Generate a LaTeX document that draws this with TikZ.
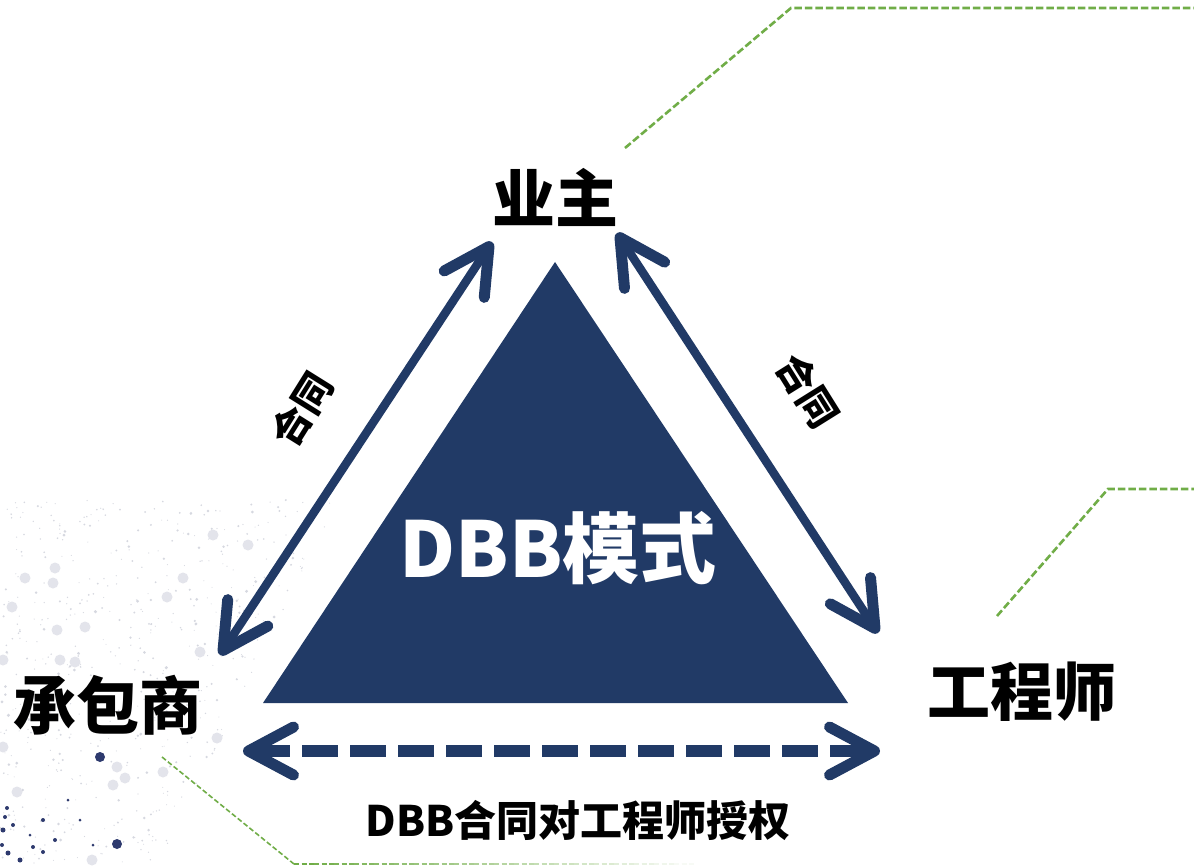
\documentclass[tikz,border=0pt]{standalone}
\usepackage{fontspec}
\newfontfamily\cjk{Noto Sans CJK SC}
\usetikzlibrary{arrows.meta,calc}
\definecolor{navy}{HTML}{213A66}
\definecolor{ggreen}{HTML}{70AD47}
\definecolor{dotgray}{HTML}{E3E4EB}
\definecolor{dotsmall}{HTML}{D6D8E0}
\definecolor{dotdark}{HTML}{2E3A6E}
\begin{document}
\begin{tikzpicture}[x=1pt,y=-1pt,
  barb/.tip={Straight Barb[length=45pt,width=48pt,line width=11pt,round]},
  dblarrow/.style={draw=navy,line width=8.5pt,{barb}-{barb}},
  dasharrow/.style={draw=navy,line width=12pt,dash pattern=on 36pt off 12pt,{barb}-{barb}},
  greendash/.style={draw=ggreen,line width=2.6pt,dash pattern=on 7.5pt off 3pt},
  greenthin/.style={draw=ggreen,line width=1.6pt,dash pattern=on 5pt off 2.5pt},
  party/.style={font=\cjk\bfseries\fontsize{63}{63}\selectfont,text=black,inner sep=0pt},
  contract/.style={font=\cjk\bfseries\fontsize{39}{39}\selectfont,text=black,inner sep=0pt},
  title/.style={font=\cjk\bfseries\fontsize{77}{77}\selectfont,text=white,inner sep=0pt},
  caption/.style={font=\cjk\bfseries\fontsize{42}{42}\selectfont,text=black,inner sep=0pt},
  bigdot/.style={fill=dotgray},
  darkdot/.style={fill=dotdark}
]
\useasboundingbox (0,0) rectangle (1194,866);
\fill[white] (0,0) rectangle (1194,866);

% decorative dots
\pgfmathsetseed{4242}
\foreach \i in {1,...,750}{
  \pgfmathsetmacro\px{rnd*340}
  \pgfmathsetmacro\py{500+rnd*366}
  \pgfmathsetmacro\lim{340-0.5*(\py-500)}
  \pgfmathsetmacro\r{0.5+1.3*rnd*rnd}
  \ifdim\px pt<\lim pt \fill[dotsmall] (\px,\py) circle[radius=\r];\fi
}
\foreach \p in {(25,578),(53,583),(12,607),(167,597),(183,578),(213,535),(57,630),(85,627),(200,652),(60,660),(75,662),(3,660),(217,738),(117,767),(125,778),(113,785),(3,747),(17,792),(92,860),(163,772),(55,568),(248,545)}
  \fill[bigdot] \p circle[radius=5.5];
\foreach \p/\r in {(100,757)/5,(117,844)/5,(7,808)/2,(5,817)/2,(13,825)/2,(3,830)/2.5,(43,820)/2,(55,840)/2,(33,847)/2,(43,852)/2,(8,853)/2.5,(20,860)/2.5,(80,820)/1.5,(93,845)/1.5,(68,800)/1.5,(30,835)/1.5,(2,845)/2}
  \fill[darkdot] \p circle[radius=\r];

% green dashed leader lines
\coordinate (g1a) at (625,148);
\coordinate (g1b) at (791,8);
\coordinate (g1c) at (1194,8);
\coordinate (g2a) at (997,616);
\coordinate (g2b) at (1108,489);
\coordinate (g2c) at (1194,489);
\coordinate (g3a) at (162,757);
\coordinate (g3b) at (294,864);
\draw[greendash] (g1a) -- (g1b) -- (g1c);
\draw[greendash] (g2a) -- (g2b) -- (g2c);
\draw[greenthin] (g3a) -- (g3b);
\foreach \k in {0,...,19}{
  \pgfmathsetmacro\op{1-\k/20}
  \draw[greenthin,draw opacity=\op] ($(g3b)+(20*\k,0)$) -- ++(20,0);
}

% triangle
\fill[navy] (555,262) -- (848,703) -- (263,703) -- cycle;
\node[title] (mode) at (558,548) {DBB模式};

% parties
\node[party] (owner) at (555,197) {业主};
\node[party] (contractor) at (108,705) {承包商};
\node[party] (engineer) at (1022,692) {工程师};

% arrow endpoints
\coordinate (lt) at (492,242);
\coordinate (lb) at (220,655);
\coordinate (rt) at (617,233);
\coordinate (rb) at (878,633);
\coordinate (bl) at (243,751);
\coordinate (br) at (880,751);

\draw[dblarrow] (lt) -- (lb);
\draw[dblarrow] (rt) -- (rb);
\draw[dasharrow] (bl) -- (br);

\node[contract,rotate=58] (c1) at (302,410) {合同};
\node[contract,rotate=-58] (c2) at (808,391) {合同};
\node[caption] (auth) at (578,820) {DBB合同对工程师授权};
\end{tikzpicture}
\end{document}
